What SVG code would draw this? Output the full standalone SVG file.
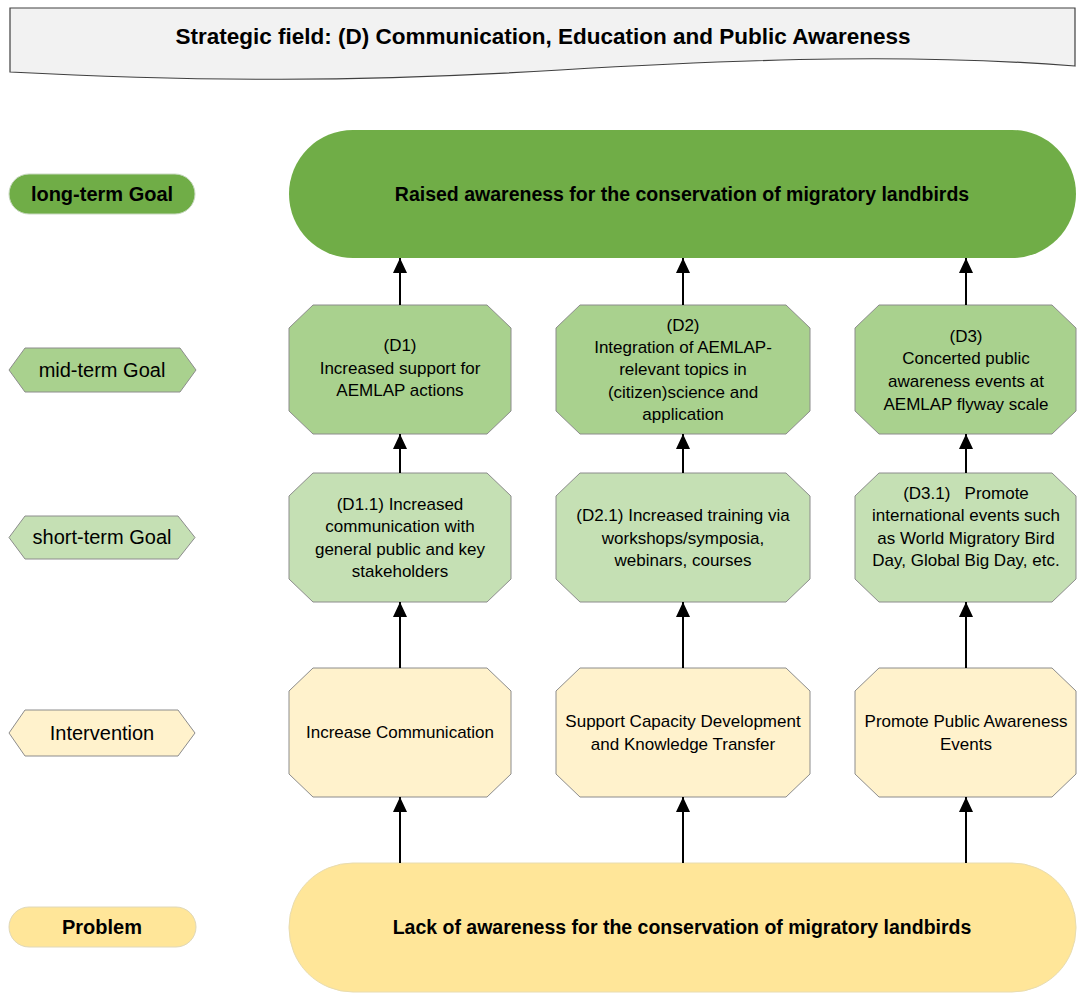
<svg xmlns="http://www.w3.org/2000/svg" width="1079" height="993" viewBox="0 0 1079 993">
<style>
text{font-family:"Liberation Sans",Arial,sans-serif;fill:#000;text-anchor:middle;dominant-baseline:central}
.n{font-size:17px}
.lb{font-size:20px}
.b{font-weight:bold}
.oct{stroke:#8c8c8c;stroke-width:1}
.mid{fill:#a9d18e}
.short{fill:#c5e0b4}
.int{fill:#fff2cc}
.cn{stroke:#000;stroke-width:2;fill:none;marker-end:url(#ah)}
</style>
<defs>
<marker id="ah" markerUnits="userSpaceOnUse" markerWidth="15" markerHeight="14" viewBox="0 0 15 14" refX="15" refY="7" orient="auto">
<path d="M0,0 L15,7 L0,14 Z" fill="#000"/>
</marker>
</defs>
<rect width="1079" height="993" fill="#fff"/>

<g id="header">
<path d="M10,8 H1075 V66 C920,54 760,58 560,70 C360,82 200,82 10,72 Z" fill="#f2f2f2" stroke="#404040" stroke-width="1.2"/>
<text class="b" x="543" y="36" font-size="22.5">Strategic field: (D) Communication, Education and Public Awareness</text>
</g>

<g id="legend-long">
<rect x="9" y="174" width="186" height="40" rx="20" fill="#70ad47" stroke="#c8d8c0" stroke-width="1"/>
<text class="lb b" x="102" y="194" font-size="19.5">long-term Goal</text>
</g>
<g id="legend-mid">
<polygon points="25,348 180,348 196,370 180,392 25,392 9,370" class="oct mid"/>
<text class="lb" x="102" y="370">mid-term Goal</text>
</g>
<g id="legend-short">
<polygon points="25,516 178,516 195,537.5 178,559 25,559 9,537.5" class="oct short"/>
<text class="lb" x="102" y="537">short-term Goal</text>
</g>
<g id="legend-int">
<polygon points="25,710 178,710 195,733 178,756 25,756 9,733" class="oct int"/>
<text class="lb" x="102" y="733">Intervention</text>
</g>
<g id="legend-problem">
<rect x="9" y="907" width="187" height="40" rx="20" fill="#ffe699" stroke="#e0d8b8" stroke-width="1"/>
<text class="lb b" x="102" y="927" font-size="19.5">Problem</text>
</g>

<g id="goal">
<rect x="289" y="130" width="787" height="128" rx="64" fill="#70ad47"/>
<text class="b" x="682" y="194" font-size="19.5">Raised awareness for the conservation of migratory landbirds</text>
</g>

<g id="D1">
<polygon points="313,305 487,305 511,328 511,411 487,434 313,434 289,411 289,328" class="oct mid"/>
<text class="n" x="400" y="345">(D1)</text>
<text class="n" x="400" y="368">Increased support for</text>
<text class="n" x="400" y="390">AEMLAP actions</text>
</g>
<g id="D2">
<polygon points="580,305 786,305 810,328 810,411 786,434 580,434 556,411 556,328" class="oct mid"/>
<text class="n" x="683" y="325">(D2)</text>
<text class="n" x="683" y="347">Integration of AEMLAP-</text>
<text class="n" x="683" y="369">relevant topics in</text>
<text class="n" x="683" y="392">(citizen)science and</text>
<text class="n" x="683" y="414">application</text>
</g>
<g id="D3">
<polygon points="879,305 1052,305 1076,328 1076,411 1052,434 879,434 855,411 855,328" class="oct mid"/>
<text class="n" x="966" y="336">(D3)</text>
<text class="n" x="966" y="358">Concerted public</text>
<text class="n" x="966" y="381">awareness events at</text>
<text class="n" x="966" y="404">AEMLAP flyway scale</text>
</g>

<g id="D1.1">
<polygon points="313,473 487,473 511,496 511,579 487,602 313,602 289,579 289,496" class="oct short"/>
<text class="n" x="400" y="504">(D1.1) Increased</text>
<text class="n" x="400" y="526">communication with</text>
<text class="n" x="400" y="549">general public and key</text>
<text class="n" x="400" y="571">stakeholders</text>
</g>
<g id="D2.1">
<polygon points="580,473 786,473 810,496 810,579 786,602 580,602 556,579 556,496" class="oct short"/>
<text class="n" x="683" y="515">(D2.1) Increased training via</text>
<text class="n" x="683" y="538">workshops/symposia,</text>
<text class="n" x="683" y="560">webinars, courses</text>
</g>
<g id="D3.1">
<polygon points="879,473 1052,473 1076,496 1076,579 1052,602 879,602 855,579 855,496" class="oct short"/>
<text class="n" x="966" y="493" xml:space="preserve">(D3.1)   Promote</text>
<text class="n" x="966" y="515">international events such</text>
<text class="n" x="966" y="538">as World Migratory Bird</text>
<text class="n" x="966" y="560">Day, Global Big Day, etc.</text>
</g>

<g id="I1">
<polygon points="313,668 487,668 511,691 511,774 487,797 313,797 289,774 289,691" class="oct int"/>
<text class="n" x="400" y="732">Increase Communication</text>
</g>
<g id="I2">
<polygon points="580,668 786,668 810,691 810,774 786,797 580,797 556,774 556,691" class="oct int"/>
<text class="n" x="683" y="721">Support Capacity Development</text>
<text class="n" x="683" y="744">and Knowledge Transfer</text>
</g>
<g id="I3">
<polygon points="879,668 1052,668 1076,691 1076,774 1052,797 879,797 855,774 855,691" class="oct int"/>
<text class="n" x="966" y="721">Promote Public Awareness</text>
<text class="n" x="966" y="744">Events</text>
</g>

<g id="problem">
<rect x="289" y="863" width="787" height="129" rx="64" fill="#ffe699" stroke="#e8dcb0" stroke-width="1"/>
<text class="b" x="682" y="927" font-size="19.5">Lack of awareness for the conservation of migratory landbirds</text>
</g>

<g id="connectors">
<line class="cn" x1="400" y1="305" x2="400" y2="258"/>
<line class="cn" x1="683" y1="305" x2="683" y2="258"/>
<line class="cn" x1="966" y1="305" x2="966" y2="258"/>
<line class="cn" x1="400" y1="473" x2="400" y2="434"/>
<line class="cn" x1="683" y1="473" x2="683" y2="434"/>
<line class="cn" x1="966" y1="473" x2="966" y2="434"/>
<line class="cn" x1="400" y1="668" x2="400" y2="602"/>
<line class="cn" x1="683" y1="668" x2="683" y2="602"/>
<line class="cn" x1="966" y1="668" x2="966" y2="602"/>
<line class="cn" x1="400" y1="863" x2="400" y2="797"/>
<line class="cn" x1="683" y1="863" x2="683" y2="797"/>
<line class="cn" x1="966" y1="863" x2="966" y2="797"/>
</g>
</svg>
